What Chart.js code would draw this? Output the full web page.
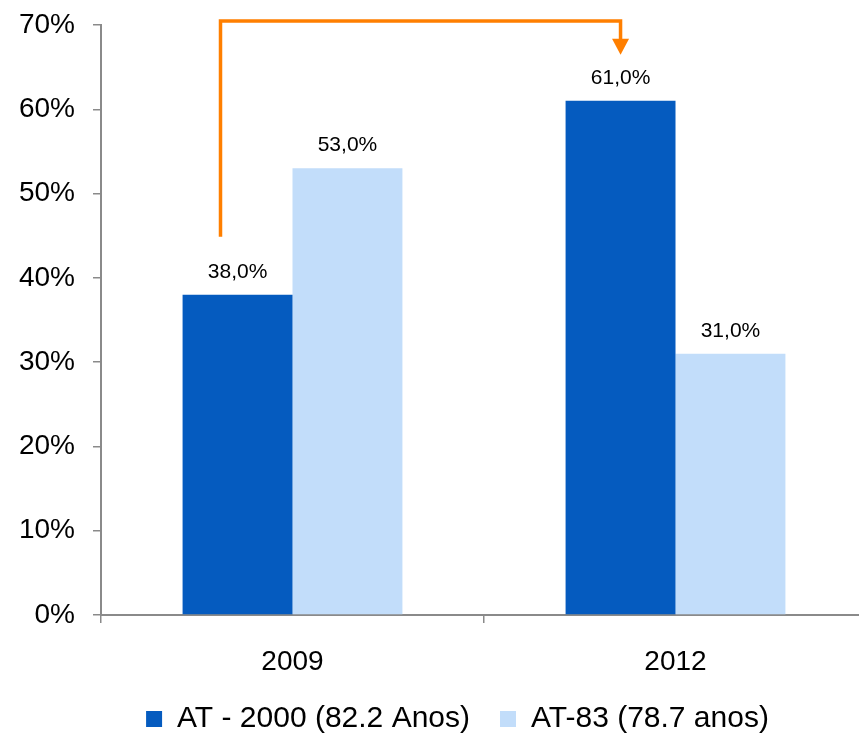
<!DOCTYPE html>
<html>
<head>
<meta charset="utf-8">
<script src="https://cdn.jsdelivr.net/npm/chart.js@4/dist/chart.umd.min.js"></script>
<style>
  html, body { margin: 0; padding: 0; background: #ffffff; overflow: hidden; }
  #wrap { width: 867px; height: 744px; }
</style>
</head>
<body>
<div id="wrap"><canvas id="chart" width="867" height="744"></canvas></div>
<script>
// Categories and series (percent values)
const years = ['2009', '2012'];
const tableNames = ['AT - 2000 (82.2 Anos)', 'AT-83 (78.7 anos)'];
const at2000 = [38.0, 61.0];
const at83 = [53.0, 31.0];
const yTicks = [0, 10, 20, 30, 40, 50, 60, 70];

const DARK = '#055bbf';
const LIGHT = '#c2ddfa';
const AXIS = '#8a8a8a';
const FONT = "'Liberation Sans', Arial, sans-serif";

function pct(v) {
  return v.toFixed(1).replace('.', ',') + '%';
}

// Value labels above each bar
const valueLabels = {
  id: 'valueLabels',
  afterDatasetsDraw(chart) {
    const ctx = chart.ctx;
    ctx.save();
    ctx.font = '21px ' + FONT;
    ctx.fillStyle = '#000000';
    ctx.textAlign = 'center';
    ctx.textBaseline = 'alphabetic';
    chart.data.datasets.forEach((ds, di) => {
      chart.getDatasetMeta(di).data.forEach((bar, i) => {
        ctx.fillText(pct(ds.data[i]), bar.x, bar.y - 17);
      });
    });
    ctx.restore();
  }
};

// Orange elbow arrow from the 2009 AT-2000 bar to the 2012 AT-2000 bar
const shiftArrow = {
  id: 'shiftArrow',
  afterDatasetsDraw(chart) {
    const meta = chart.getDatasetMeta(0);
    const from = meta.data[0];
    const to = meta.data[1];
    const ctx = chart.ctx;
    const x0 = from.x - from.width * 0.155;
    const y0 = from.y - 58;
    const yTop = chart.chartArea.top - 4;
    const x1 = to.x;
    const tip = to.y - 46;
    const base = tip - 16;
    ctx.save();
    ctx.strokeStyle = '#ff7f00';
    ctx.fillStyle = '#ff7f00';
    ctx.lineWidth = 3.5;
    ctx.lineJoin = 'miter';
    ctx.beginPath();
    ctx.moveTo(x0, y0);
    ctx.lineTo(x0, yTop);
    ctx.lineTo(x1, yTop);
    ctx.lineTo(x1, base + 1);
    ctx.stroke();
    ctx.beginPath();
    ctx.moveTo(x1 - 8.5, base);
    ctx.lineTo(x1 + 8.5, base);
    ctx.lineTo(x1, tip);
    ctx.closePath();
    ctx.fill();
    ctx.restore();
  }
};

// Keep the legend row centred under the plot rather than the whole canvas
const legendOffset = {
  id: 'legendOffset',
  afterLayout(chart) {
    if (chart.legend) {
      chart.legend.left += 48;
    }
  }
};

new Chart(document.getElementById('chart'), {
  type: 'bar',
  data: {
    labels: years,
    datasets: [
      { label: tableNames[0], data: at2000, backgroundColor: DARK, borderWidth: 0 },
      { label: tableNames[1], data: at83, backgroundColor: LIGHT, borderWidth: 0 }
    ]
  },
  options: {
    responsive: false,
    animation: false,
    layout: { padding: { top: 25, left: 0, right: 0, bottom: 0 } },
    datasets: { bar: { categoryPercentage: 0.574, barPercentage: 1.0 } },
    plugins: {
      legend: {
        position: 'bottom',
        align: 'center',
        labels: {
          boxWidth: 16,
          boxHeight: 16,
          padding: 30,
          color: '#000000',
          font: { family: FONT, size: 30 }
        }
      },
      tooltip: { enabled: false }
    },
    scales: {
      x: {
        grid: {
          display: true,
          offset: true,
          drawOnChartArea: false,
          drawTicks: true,
          tickLength: 8,
          color: AXIS,
          lineWidth: 1.5
        },
        border: { display: true, color: AXIS, width: 2 },
        ticks: {
          color: '#000000',
          padding: 22,
          font: { family: FONT, size: 28 }
        },
        afterFit(scale) { scale.height = 59; }
      },
      y: {
        min: yTicks[0],
        max: yTicks[yTicks.length - 1],
        afterBuildTicks(scale) {
          scale.ticks = yTicks.map(v => ({ value: v }));
        },
        grid: {
          display: true,
          drawOnChartArea: false,
          drawTicks: true,
          tickLength: 8,
          color: AXIS,
          lineWidth: 1.5
        },
        border: { display: true, color: AXIS, width: 2 },
        ticks: {
          color: '#000000',
          padding: 18,
          font: { family: FONT, size: 28 },
          callback: v => v + '%'
        },
        afterFit(scale) {
          scale.width = 101;
          scale.paddingTop = 0;
          scale.paddingBottom = 0;
        }
      }
    }
  },
  plugins: [valueLabels, shiftArrow, legendOffset]
});
</script>
</body>
</html>
